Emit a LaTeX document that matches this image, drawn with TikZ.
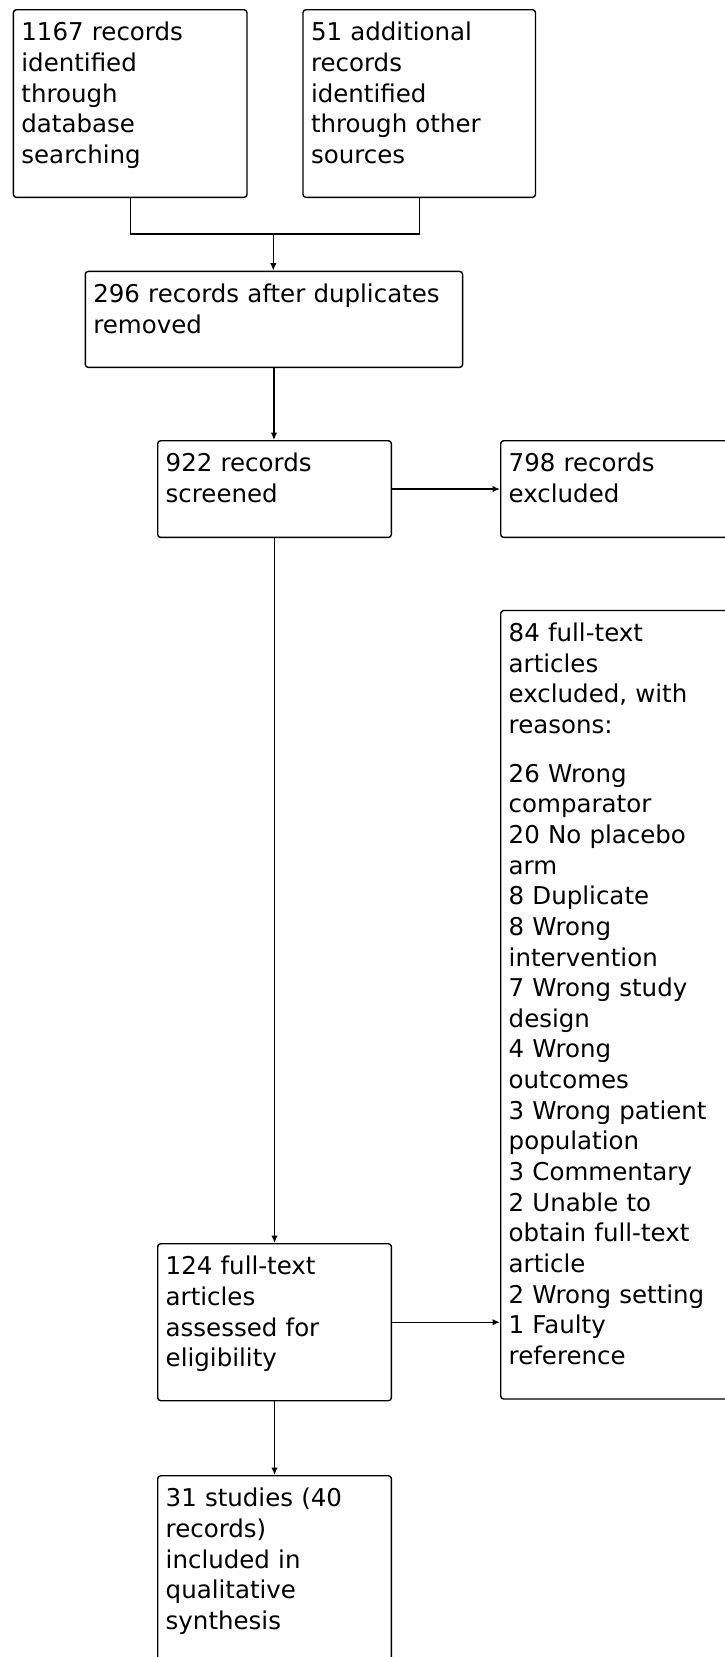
\documentclass[tikz,border=0pt]{standalone}
\usepackage{fontspec}
\setmainfont{DejaVu Sans}
\usetikzlibrary{arrows.meta}
\begin{document}
\begin{tikzpicture}[x=1pt, y=-1pt, line width=1.4pt,
  box/.style = {draw, rounded corners=3pt, anchor=north west, align=left,
     inner xsep=8pt, inner ysep=0pt, text height=31pt,
     font=\fontsize{24.5}{30.65}\selectfont},
  arr/.style = {-{Latex[length=7.5pt,width=6.5pt]}}]
\useasboundingbox (0,0) rectangle (725,1657);
% identification
\node [box, text width=217.6pt, text depth=156.7pt] (db) at (12.7,9)
  {1167 records\\identified\\through\\database\\searching};
\node [box, text width=216.5pt, text depth=156.7pt] (other) at (302.3,9)
  {51 additional\\records\\identified\\through other\\sources};
\node [box, text width=361.3pt, text depth=65pt] (dedup) at (84.6,270.7)
  {296 records after duplicates\\removed};
% screening
\node [box, text width=217.7pt, text depth=65.7pt] (screened) at (157,440)
  {922 records\\screened};
\node [box, text width=234pt, text depth=65.7pt] (excl) at (500,440)
  {798 records\\excluded};
% eligibility
\node [box, text width=234pt, text depth=757.5pt] (ftx) at (500,609.8)
  {84 full-text\\articles\\excluded, with\\reasons:\\[18pt]
   26 Wrong\\comparator\\20 No placebo\\arm\\8 Duplicate\\8 Wrong\\
   intervention\\7 Wrong study\\design\\4 Wrong\\outcomes\\
   3 Wrong patient\\population\\3 Commentary\\2 Unable to\\
   obtain full-text\\article\\2 Wrong setting\\1 Faulty\\reference};
\node [box, text width=217.7pt, text depth=126pt] (full) at (157,1243)
  {124 full-text\\articles\\assessed for\\eligibility};
% included
\node [box, text width=217.7pt, text depth=209pt] (incl) at (157,1475)
  {31 studies (40\\records)\\included in\\qualitative\\synthesis};
\coordinate (join) at (273.3,234);
\draw (db.south) |- (join) -| (other.south);
\draw [arr] (join) -- (join |- dedup.north);
\draw [arr] (dedup.south) -- (dedup.south |- screened.north);
\draw [arr] (screened.east) -- (excl.west);
\draw [arr] (screened) -- (full);
\draw [arr] (full.east) -- (full.east -| ftx.west);
\draw [arr] (full) -- (incl);
\end{tikzpicture}
\end{document}
